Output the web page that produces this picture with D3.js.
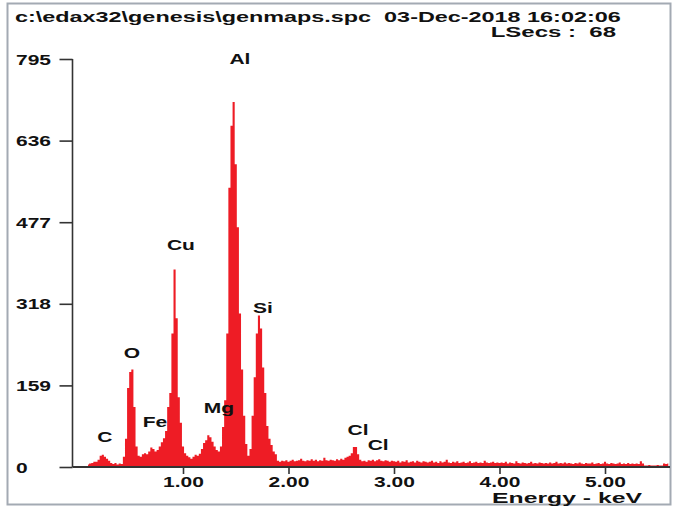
<!DOCTYPE html>
<html>
<head>
<meta charset="utf-8">
<script src="https://cdn.jsdelivr.net/npm/d3@7/dist/d3.min.js"></script>
<style>
  html, body { margin: 0; padding: 0; background: #fff; }
  svg text { font-family: "Liberation Sans", Arial, sans-serif; font-weight: bold; fill: #111; white-space: pre; }
</style>
</head>
<body>
<svg id="chart" width="674" height="512"></svg>
<script>
// ---- data ----
const titleLine1 = "c:\\edax32\\genesis\\genmaps.spc\u00a0\u00a003-Dec-2018 16:02:06";
const titleLine2 = "LSecs :\u00a0 68";
const xAxisTitle = "Energy - keV";
const yTickValues = [0, 159, 318, 477, 636, 795];
const yTickLabels = ["0", "159", "318", "477", "636", "795"];
const xTickValues = [1, 2, 3, 4, 5];
const xTickLabels = ["1.00", "2.00", "3.00", "4.00", "5.00"];
const energyStart = 0.10;   // keV, first channel centre
const energyStep = 0.02;    // keV per channel
const counts = [
  // 0.10 - 0.44
  5,7,8,10,10,14,22,24,20,16,12,8,6,8,5,7,6,20,
  // 0.46 - 0.58 (O)
  55,154,185,190,117,40,22,
  // 0.60 - 0.88
  20,25,27,25,30,38,35,30,33,40,48,56,70,117,144,
  // 0.90 - 1.08 (Cu)
  260,385,290,136,86,40,27,22,19,16,
  // 1.10 - 1.34 (Mg)
  20,24,22,26,35,47,52,62,58,49,40,33,30,
  // 1.36 - 1.62 (Al)
  40,78,130,260,544,665,711,590,467,299,190,100,45,22,
  // 1.64 - 1.88 (Si)
  35,100,175,260,295,270,194,144,80,55,43,30,25,
  // 1.90 - 2.50
  12,10,12,11,13,10,12,14,11,12,13,16,12,11,13,12,15,12,14,11,13,12,18,13,12,14,13,12,15,13,16,
  // 2.52 - 2.68 (Cl)
  14,18,20,22,27,39,39,25,14,
  // 2.70 - 3.00
  11,12,10,13,12,14,11,13,15,12,11,13,12,10,12,11,
  // 3.02 - 4.00
  10,12,9,11,10,13,9,10,11,9,12,10,9,11,10,9,10,12,9,10,8,11,9,10,14,9,8,10,9,11,8,9,10,8,9,11,8,9,10,8,9,8,12,9,8,9,10,8,9,8,
  // 4.02 - 5.00
  9,8,10,7,9,8,7,11,8,7,9,8,7,8,10,7,8,7,9,8,7,8,7,9,7,8,10,7,8,7,9,7,8,7,6,8,7,9,7,6,8,7,7,9,6,7,8,6,7,10,
  // 5.02 - 5.60
  7,6,8,7,6,7,9,6,7,6,8,6,7,6,7,6,11,7,3,3,4,3,3,3,4,3,3,7,6,7
];
const peakNames = ["C", "O", "Fe", "Cu", "Mg", "Al", "Si", "Cl", "Cl"];
const peakLabelEnergies = [0.26, 0.517, 0.735, 0.98, 1.341, 1.54, 1.758, 2.66, 2.85];
const peakLabelCounts = [49, 212, 78, 422, 105, 785, 301, 62, 33];

// ---- layout ----
const svg = d3.select("#chart");
const SX = 1.5; // horizontal stretch of the reference's lettering
const plot = { left: 72.5, right: 670, top: 59, bottom: 467 };

const x = d3.scaleLinear().domain([0, 1]).range([77.5, 183]); // 105.5 px per keV
const y = d3.scaleLinear().domain([0, 795]).range([plot.bottom, plot.top]);

function stretched(sel, px, py, anchor, sx) {
  const s = sx || SX;
  return sel.attr("x", px / s).attr("y", py).attr("transform", `scale(${s},1)`)
            .attr("text-anchor", anchor || "start");
}

// outer frame
svg.append("rect").attr("x", 7.5).attr("y", 3.5).attr("width", 663).attr("height", 501)
  .attr("fill", "none").attr("stroke", "#a3aab3").attr("stroke-width", 2);

// titles
stretched(svg.append("text").text(titleLine1).style("font-size", "15px"), 15, 22, "start", 1.56);
stretched(svg.append("text").text(titleLine2).style("font-size", "15px"), 616, 37, "end", 1.6);

// spectrum
const data = counts.map((c, i) => ({ e: energyStart + i * energyStep, c }));
const area = d3.area()
  .x(d => x(d.e))
  .y0(y(0))
  .y1(d => y(d.c))
  .curve(d3.curveStep);
svg.append("path").datum(data).attr("d", area).attr("fill", "#ee1c25");

// y axis
const yAxis = d3.axisLeft(y).tickValues(yTickValues).tickSize(13).tickPadding(0)
  .tickFormat((d, i) => yTickLabels[i]);
const gy = svg.append("g").attr("transform", `translate(${plot.left},0)`).call(yAxis);
gy.select(".domain").attr("stroke", "#333").attr("stroke-width", 1.6).attr("d", `M0,${plot.top}V${plot.bottom}`);
gy.selectAll(".tick line").attr("stroke", "#333").attr("stroke-width", 1.6);
gy.selectAll(".tick text").style("font-size", "14px").attr("fill", "#111")
  .attr("text-anchor", "start")
  .attr("x", (16 - plot.left) / SX).attr("dy", "0.36em").attr("transform", `scale(${SX},1)`);

// x axis
const xAxis = d3.axisBottom(x).tickValues(xTickValues).tickSize(7).tickPadding(0)
  .tickFormat((d, i) => xTickLabels[i]);
const gx = svg.append("g").attr("transform", `translate(0,${plot.bottom})`).call(xAxis);
gx.select(".domain").attr("stroke", "#333").attr("stroke-width", 1.8).attr("d", `M${plot.left},0H${plot.right}`);
gx.selectAll(".tick line").attr("stroke", "#333").attr("stroke-width", 1.6);
gx.selectAll(".tick text").style("font-size", "14px").attr("fill", "#111")
  .attr("y", 10).attr("dy", "0.71em").attr("transform", `scale(${SX},1)`);

// x axis title
stretched(svg.append("text").text(xAxisTitle).style("font-size", "15px"), 642, 503, "end", 1.65);

// peak labels
peakNames.forEach((name, i) => {
  stretched(svg.append("text").text(name).style("font-size", "14px"),
    x(peakLabelEnergies[i]), y(peakLabelCounts[i]), "middle");
});
</script>
</body>
</html>
